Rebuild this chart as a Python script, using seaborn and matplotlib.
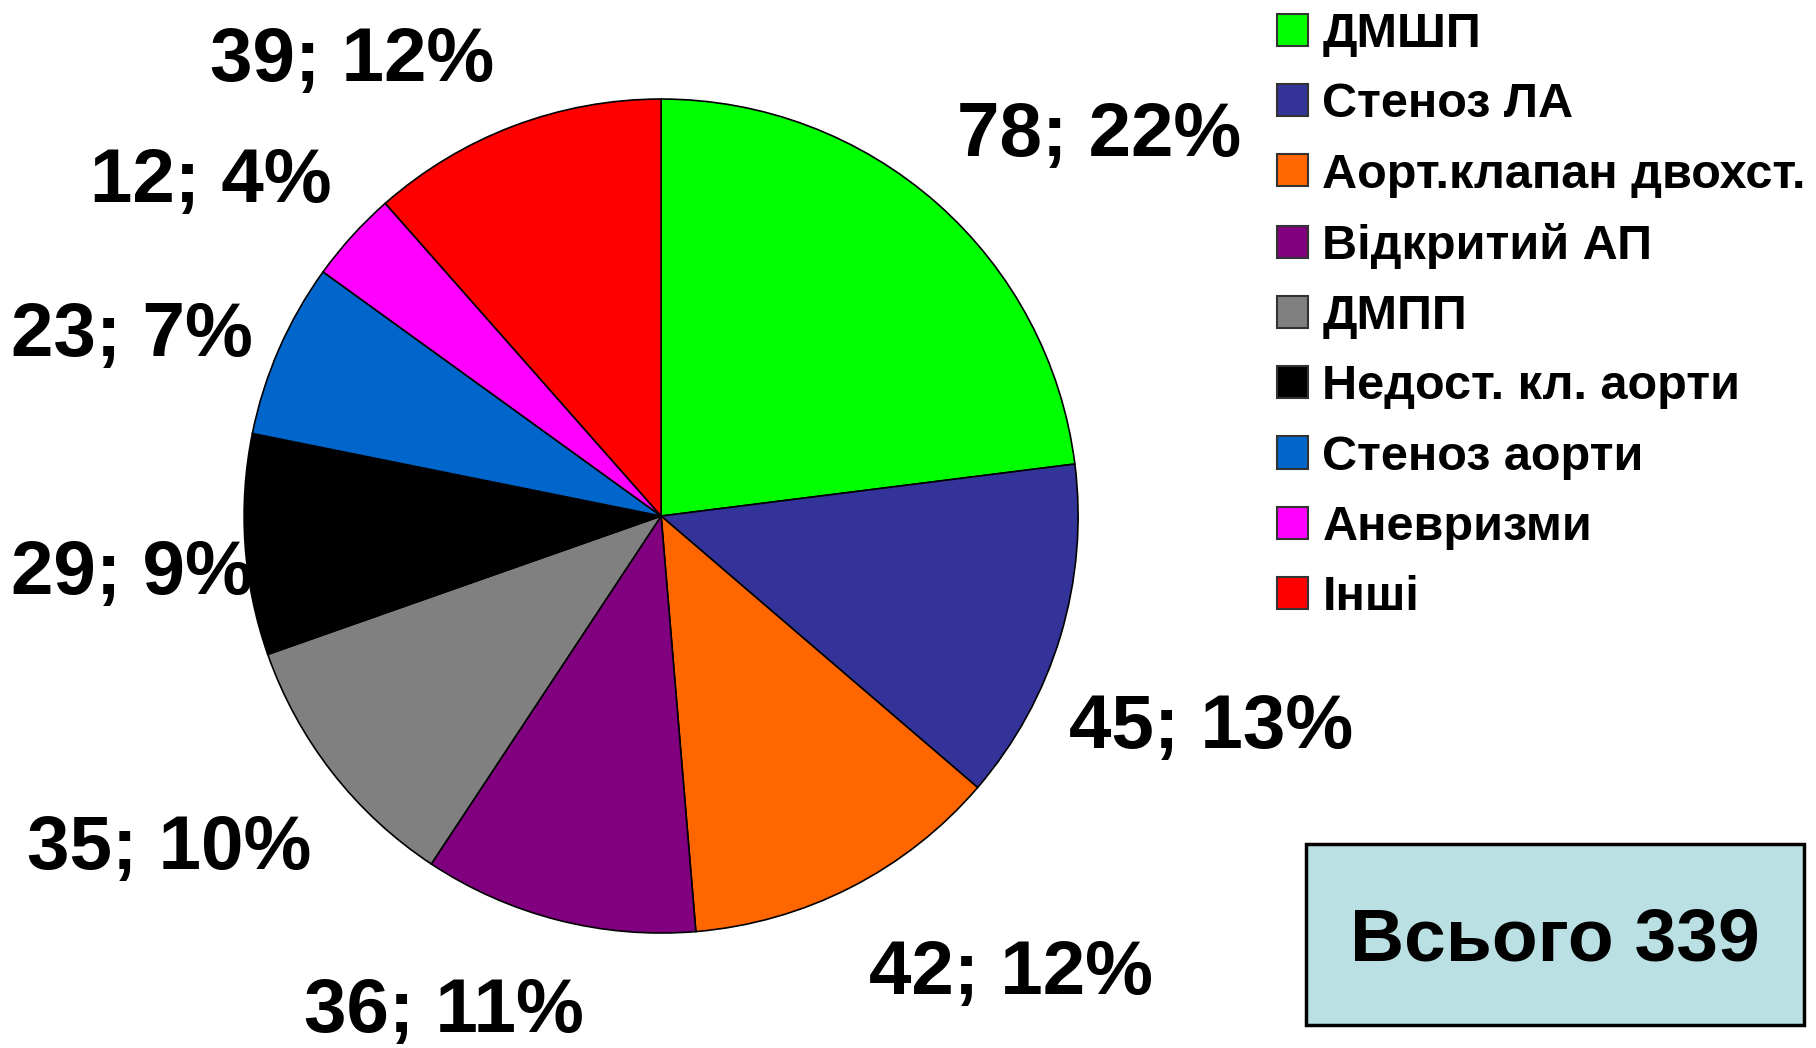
import matplotlib
matplotlib.use("Agg")
import matplotlib.pyplot as plt
from matplotlib.patches import Rectangle
import seaborn as sns

# data
categories = ["ДМШП", "Стеноз ЛА", "Аорт.клапан двохст.", "Відкритий АП", "ДМПП",
              "Недост. кл. аорти", "Стеноз аорти", "Аневризми", "Інші"]
counts = [78, 45, 42, 36, 35, 29, 23, 12, 39]
pct_labels = ["22%", "13%", "12%", "11%", "10%", "9%", "7%", "4%", "12%"]
total_text = "Всього 339"

colors = ["#00FF00", "#333399", "#FF6600", "#800080", "#808080",
          "#000000", "#0066CC", "#FF00FF", "#FF0000"]
# label centres in pie-radius units (layout only)
label_xy = [(1.05, 0.91), (1.32, -0.51), (0.84, -1.10), (-0.52, -1.19), (-1.18, -0.80),
            (-1.27, -0.14), (-1.27, 0.43), (-1.08, 0.80), (-0.74, 1.09)]

sns.set_theme(style="white")
plt.rcParams["font.family"] = ["Liberation Sans", "DejaVu Sans"]
plt.rcParams["text.color"] = "black"

fig = plt.figure(figsize=(18.16, 10.48), dpi=100)
ax = fig.add_axes([0.1344, 0.1097, 0.4593, 0.7958])

wedges, _ = ax.pie(counts, colors=colors, startangle=90, counterclock=False,
                   wedgeprops=dict(edgecolor="black", linewidth=1.2))
ax.set_xlim(-1, 1)
ax.set_ylim(-1, 1)
ax.set_aspect("equal")
ax.axis("off")

for (x, y), n, p in zip(label_xy, counts, pct_labels):
    ax.text(x, y, f"{n}; {p}", ha="center", va="center", fontsize=55,
            fontweight="bold", color="black",
            family=["Liberation Sans Narrow", "Liberation Sans"], clip_on=False)

leg = fig.legend(wedges, categories, loc="upper left", bbox_to_anchor=(0.703, 0.9886),
                 frameon=False, prop=dict(weight="bold", size=35),
                 handlelength=0.64, handleheight=0.64, handletextpad=0.3,
                 labelspacing=0.52, borderpad=0, borderaxespad=0)
for h in leg.legend_handles:
    h.set_edgecolor("#333333")
    h.set_linewidth(1.5)
for t in leg.get_texts():
    t.set_color("black")

fig.patches.append(Rectangle((0.7192, 0.0219), 0.2742, 0.1727, transform=fig.transFigure,
                             facecolor="#BBE0E3", edgecolor="black", linewidth=2.5))
fig.text(0.8563, 0.1025, total_text, ha="center", va="center", fontsize=54,
         fontweight="bold", color="black")

fig.savefig("out.png", dpi=100, facecolor="white")
